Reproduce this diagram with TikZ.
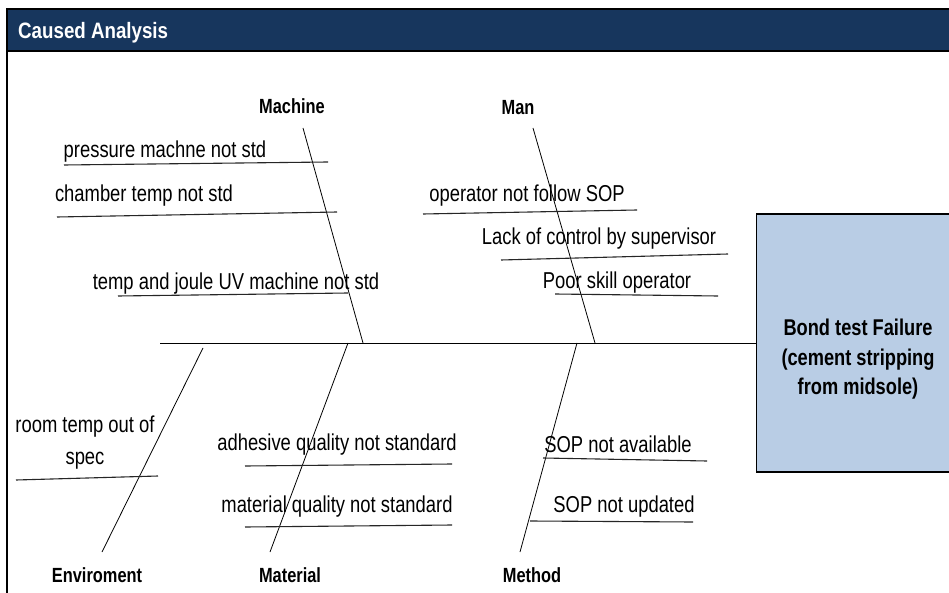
\documentclass[tikz,border=0pt]{standalone}
\usepackage{fontspec}
\setmainfont{Liberation Sans}
\newfontfamily\narrowfont{Liberation Sans}[FakeStretch=0.8]
\newfontfamily\titlefont{Liberation Sans}[FakeStretch=0.84]
\definecolor{headnavy}{HTML}{17365D}
\definecolor{boxblue}{HTML}{B9CDE5}
\begin{document}
\begin{tikzpicture}[x=1pt,y=-1pt,
  cause/.style={inner sep=0pt, anchor=base, font=\narrowfont\fontsize{23}{32}\selectfont},
  cat/.style={inner sep=0pt, anchor=base, font=\narrowfont\fontsize{20.5}{24}\selectfont\bfseries},
  uline/.style={line width=1.1pt, draw=black!85},
  bone/.style={line width=0.8pt},
  frameline/.style={line width=1.3pt, draw=black},
]
\useasboundingbox (0,0) rectangle (949,593);
\fill[white] (0,0) rectangle (949,593);
% frame and header
\draw[frameline, fill=headnavy] (7,9) rectangle (965,51);
\draw[frameline] (7,51) -- (7,600);
\node[anchor=base west, inner sep=0pt, text=white, font=\titlefont\fontsize{22.3}{26}\selectfont\bfseries] (title) at (18,39) {Caused Analysis};

% effect box
\node[draw=black, line width=1.3pt, fill=boxblue, minimum width=204pt, minimum height=258pt, inner sep=0pt, anchor=west] (effect) at (756,343) {};
\node[anchor=north, align=center, inner sep=0pt, font=\narrowfont\fontsize{22.8}{29.5}\selectfont\bfseries] (effecttext) at (858,319) {Bond test Failure\\(cement stripping\\from midsole)};

% spine
\coordinate (tail) at (160,343);
\draw[line width=1pt] (tail) -- (effect.west);

% bones
\coordinate (machtop) at (303,128); \coordinate (machend) at (363,343);
\coordinate (mantop) at (533,128);  \coordinate (manend) at (595,343);
\coordinate (envtop) at (203,348);  \coordinate (envend) at (102,552);
\coordinate (mattop) at (348,343);  \coordinate (matend) at (270,552);
\coordinate (mettop) at (577,343);  \coordinate (metend) at (520,552);
\draw[bone] (machtop) -- (machend);
\draw[bone] (mantop) -- (manend);
\draw[bone] (envtop) -- (envend);
\draw[bone] (mattop) -- (matend);
\draw[bone] (mettop) -- (metend);

% category labels
\node[cat] (machine) at (292,114) {Machine};
\node[cat] (man) at (518,115) {Man};
\node[cat] (env) at (97,582) {Enviroment};
\node[cat] (material) at (290,582) {Material};
\node[cat] (method) at (532,582) {Method};

% Machine causes
\node[cause] (c1) at (165,158) {pressure machne not std};
\coordinate (c1a) at (64,165); \coordinate (c1b) at (328,162);
\draw[uline] (c1a) -- (c1b);
\node[cause] (c2) at (144,202) {chamber temp not std};
\coordinate (c2a) at (57,217); \coordinate (c2b) at (337,212);
\draw[uline] (c2a) -- (c2b);
\node[cause] (c3) at (236,290) {temp and joule UV machine not std};
\coordinate (c3a) at (118,296); \coordinate (c3b) at (348,293);
\draw[uline] (c3a) -- (c3b);

% Man causes
\node[cause] (c4) at (527,202) {operator not follow SOP};
\coordinate (c4a) at (423,214); \coordinate (c4b) at (637,210);
\draw[uline] (c4a) -- (c4b);
\node[cause] (c5) at (599,245) {Lack of control by supervisor};
\coordinate (c5a) at (501,260); \coordinate (c5b) at (728,254);
\draw[uline] (c5a) -- (c5b);
\node[cause] (c6) at (617,288) {Poor skill operator};
\coordinate (c6a) at (555,294); \coordinate (c6b) at (718,296);
\draw[uline] (c6a) -- (c6b);

% Environment cause
\node[cause, anchor=north, align=center] (c7) at (85,416) {room temp out of\\spec};
\coordinate (c7a) at (16,480); \coordinate (c7b) at (158,476);
\draw[uline] (c7a) -- (c7b);

% Material causes
\node[cause] (c8) at (337,450) {adhesive quality not standard};
\coordinate (c8a) at (245,466); \coordinate (c8b) at (452,464);
\draw[uline] (c8a) -- (c8b);
\node[cause] (c9) at (337,512) {material quality not standard};
\coordinate (c9a) at (245,527); \coordinate (c9b) at (452,525);
\draw[uline] (c9a) -- (c9b);

% Method causes
\node[cause] (c10) at (618,452) {SOP not available};
\coordinate (c10a) at (543,458); \coordinate (c10b) at (707,461);
\draw[uline] (c10a) -- (c10b);
\node[cause] (c11) at (624,512) {SOP not updated};
\coordinate (c11a) at (530,521); \coordinate (c11b) at (693,522);
\draw[uline] (c11a) -- (c11b);
\end{tikzpicture}
\end{document}
